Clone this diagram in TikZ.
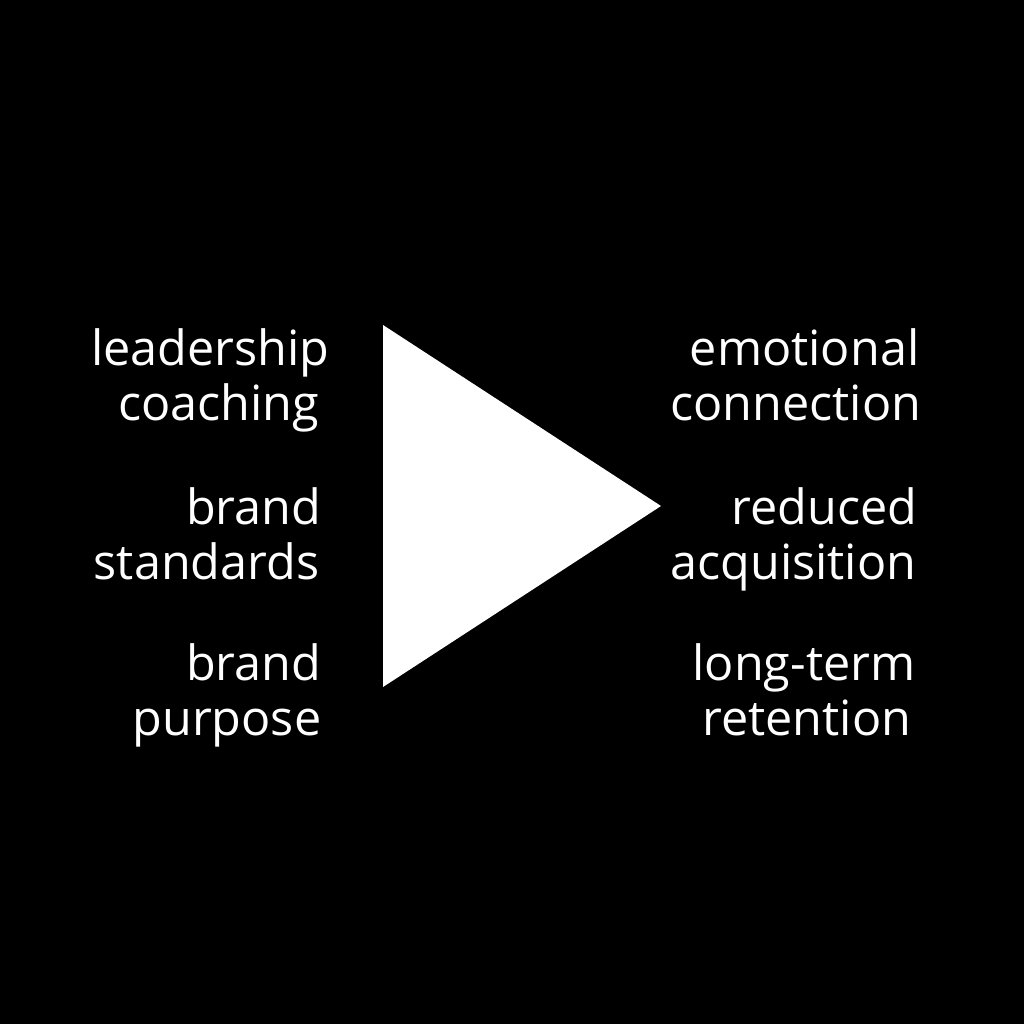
\documentclass[tikz,border=0pt]{standalone}
\usepackage{fontspec}
\setmainfont{Open Sans}
\begin{document}
\begin{tikzpicture}[x=0.01cm,y=-0.01cm,
  lbl/.style={text=white,inner sep=0pt,anchor=base east,font=\fontsize{13.8pt}{17pt}\selectfont}]
\fill[black] (0,0) rectangle (1024,1024);
\useasboundingbox (0,0) rectangle (1024,1024);
\fill[white] (383,325) coordinate (t1) -- (383,687) coordinate (t2) -- (661,506) coordinate (t3) -- cycle;
\node[lbl] (l1) at (330,365) {leadership};
\node[lbl] (l2) at (320,420) {coaching};
\node[lbl] (l3) at (322,524) {brand};
\node[lbl] (l4) at (320,579) {standards};
\node[lbl] (l5) at (322,680) {brand};
\node[lbl] (l6) at (322,735) {purpose};
\node[lbl] (r1) at (920,365) {emotional};
\node[lbl] (r2) at (922,420) {connection};
\node[lbl] (r3) at (918,524) {reduced};
\node[lbl] (r4) at (917,579) {acquisition};
\node[lbl] (r5) at (916,680) {long-term};
\node[lbl] (r6) at (912,735) {retention};
\end{tikzpicture}
\end{document}
